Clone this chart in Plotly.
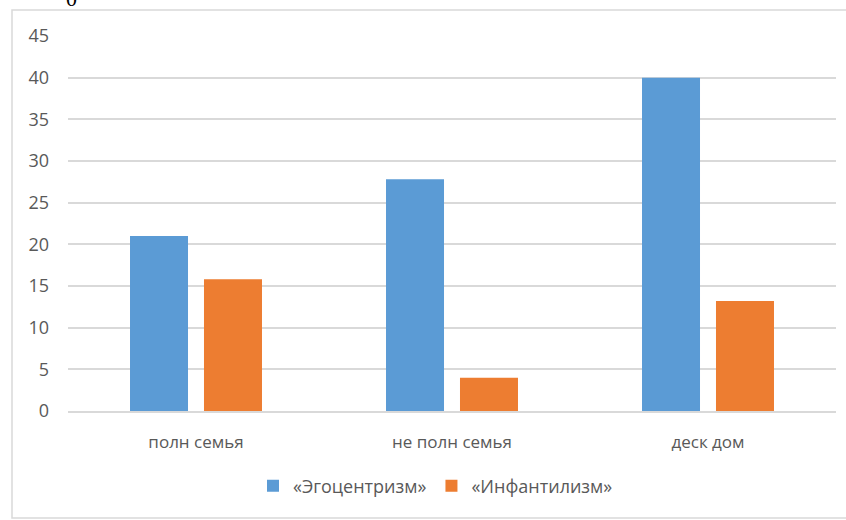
import plotly.graph_objects as go

categories = ["полн семья", "не полн семья", "деск дом"]
series_names = ["«Эгоцентризм»", "«Инфантилизм»"]
egocentrism = [21, 27.8, 40]
infantilism = [15.8, 4, 13.2]
y_ticks = [0, 5, 10, 15, 20, 25, 30, 35, 40, 45]

colors = ["#5B9BD5", "#ED7D31"]
font_family = "Open Sans, Lato, sans-serif"
text_color = "#595959"

W, H = 846, 520
L, R, T, B = 68, 10, 36, 109
plot_w = W - L - R
plot_h = H - T - B

fig = go.Figure()
for name, vals, col in zip(series_names, [egocentrism, infantilism], colors):
    fig.add_trace(go.Bar(x=categories, y=vals, name=name, marker_color=col,
                         marker_line_width=0))

def px_x(p):
    return (p - L) / plot_w

def px_y(p):
    return (H - B - p) / plot_h

# outer chart frame
fig.add_shape(type="rect", xref="paper", yref="paper",
              x0=px_x(12), x1=px_x(850), y0=px_y(518), y1=px_y(10),
              line=dict(color="#D9D9D9", width=1.5), fillcolor="rgba(0,0,0,0)",
              layer="below")

# heading glyph above the frame
fig.add_annotation(text="0", xref="paper", yref="paper", x=px_x(71), y=px_y(-2),
                   showarrow=False, font=dict(family="Liberation Serif", size=22, color="#000000"),
                   xanchor="center", yanchor="middle")

fig.update_layout(
    width=W, height=H,
    margin=dict(l=L, r=R, t=T, b=B),
    paper_bgcolor="white", plot_bgcolor="white",
    barmode="group", bargap=0.422, bargroupgap=0.216,
    font=dict(family=font_family, color=text_color, size=17),
    xaxis=dict(showgrid=False, showline=True, linecolor="#D9D9D9", linewidth=1.5,
               ticks="", tickfont=dict(size=17, color=text_color), ticklabelstandoff=15),
    yaxis=dict(range=[0, 45], tickvals=y_ticks, showgrid=True, gridcolor="#D9D9D9",
               gridwidth=1.5, zeroline=False, showline=False, ticks="",
               tickfont=dict(size=18, color=text_color), ticklabelstandoff=18),
    legend=dict(orientation="h", x=px_x(253), xanchor="left", y=px_y(486), yanchor="middle",
                font=dict(size=18, color=text_color), itemwidth=30,
                bgcolor="rgba(0,0,0,0)", traceorder="normal"),
    showlegend=True,
)

fig.write_html("out.html")
